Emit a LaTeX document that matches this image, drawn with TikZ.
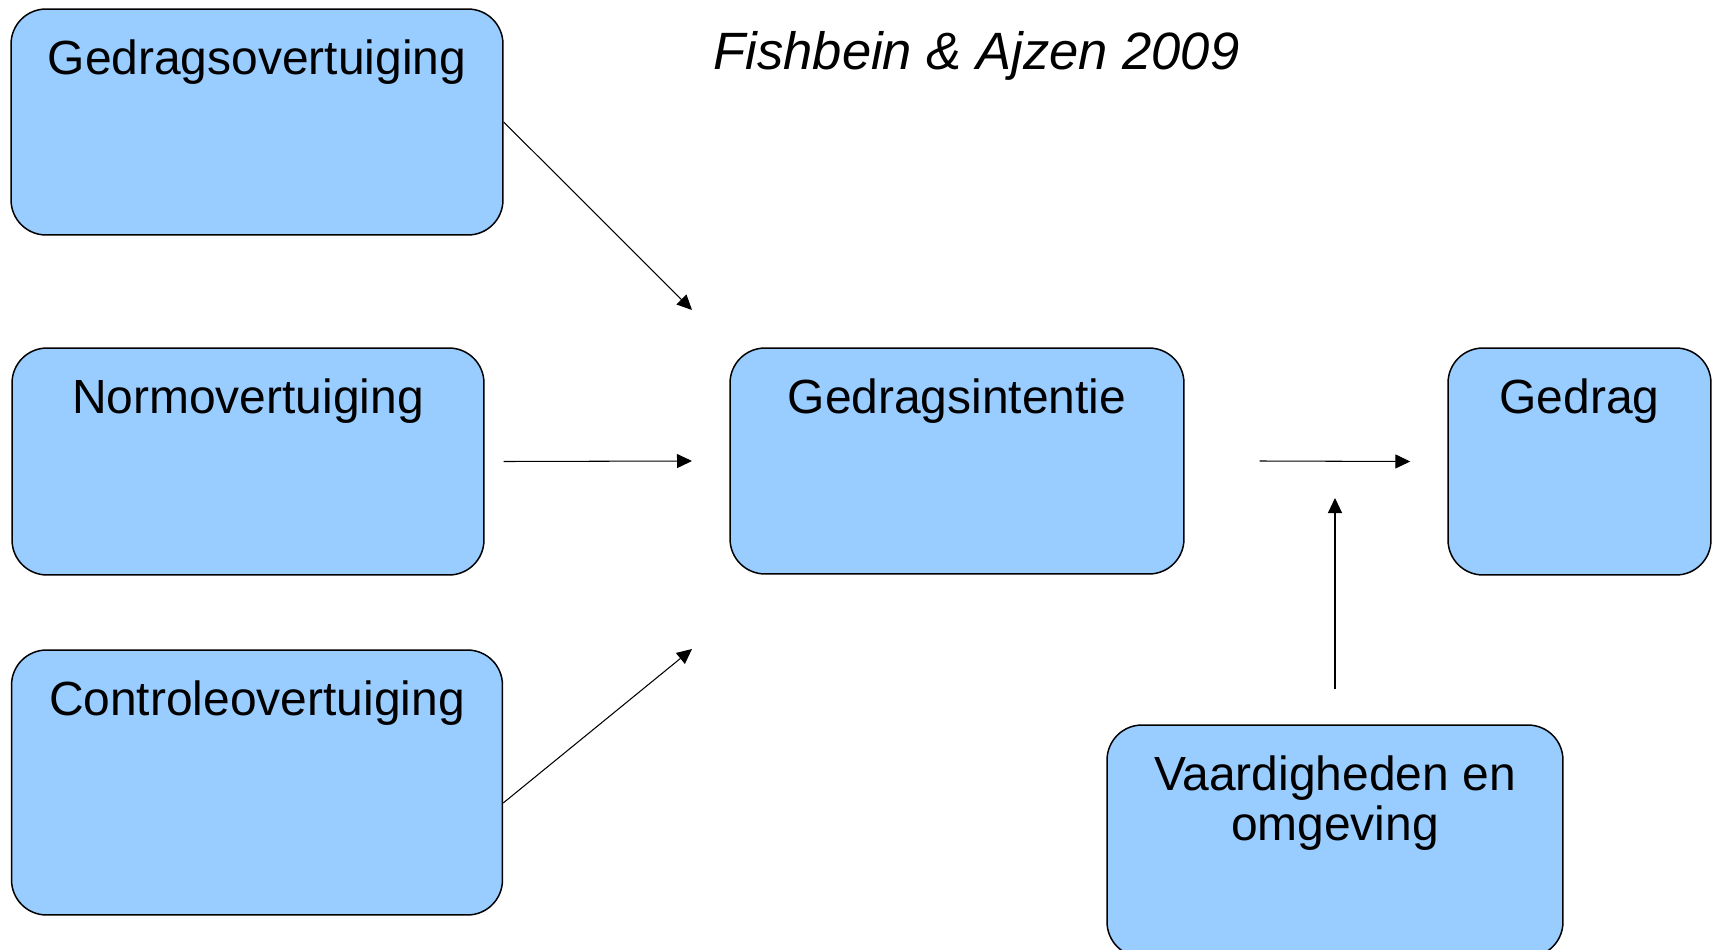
\documentclass[tikz,border=0pt]{standalone}
\usepackage{fontspec}
\setmainfont{Liberation Sans}
\usepackage{tikz}
\usetikzlibrary{calc,arrows.meta}
\definecolor{vakkleur}{HTML}{99CCFF}
\colorlet{randkleur}{black}
\tikzstyle{vak} = [
    draw=randkleur,
    fill=vakkleur,
    line width=0.85pt,
    rectangle,
    rounded corners=0.7cm,
    inner sep=0pt
    ]
\tikzstyle{vaktekst} = [
    anchor=base,
    yshift=-1.33cm,
    align=center,
    inner sep=0pt,
    font=\fontsize{27.3}{28.45}\selectfont
    ]
\tikzstyle{titel} = [
    anchor=base,
    inner sep=0pt,
    font=\fontsize{29.9}{34}\selectfont\itshape
    ]
\tikzstyle{pijl} = [
    -{Triangle[length=0.3cm,width=0.28cm]},
    line width=0.6pt
    ]

\begin{document}
\begin{tikzpicture}[x=0.02cm,y=-0.02cm]
\useasboundingbox (0,0) rectangle (1712,950);
% vakken
\node[vak, minimum width=9.84cm, minimum height=4.52cm] (gedragsov) at (257,122) {};
\node[vak, minimum width=9.44cm, minimum height=4.54cm] (normov) at (248,461.5) {};
\node[vak, minimum width=9.82cm, minimum height=5.3cm] (controleov) at (257,782.5) {};
\node[vak, minimum width=9.08cm, minimum height=4.52cm] (intentie) at (957,461) {};
\node[vak, minimum width=5.26cm, minimum height=4.54cm] (gedrag) at (1579.5,461.5) {};
\node[vak, minimum width=9.12cm, minimum height=4.64cm] (vaardig) at (1335,841) {};
% teksten
\node[vaktekst] (gedragsovtekst) at (gedragsov.north) {Gedragsovertuiging};
\node[vaktekst] (normovtekst) at (normov.north) {Normovertuiging};
\node[vaktekst] (controleovtekst) at (controleov.north) {Controleovertuiging};
\node[vaktekst] (intentietekst) at (intentie.north) {Gedragsintentie};
\node[vaktekst] (gedragtekst) at (gedrag.north) {Gedrag};
\node[vaktekst, yshift=-1cm] (vaardigtekst) at (vaardig.north) {Vaardigheden en\\omgeving};
\node[titel] (bron) at (976.5,70) {Fishbein \& Ajzen 2009};
% pijlen
\coordinate (naar1) at (692,310);
\coordinate (van2) at ($(normov.east)+(19,0)$);
\coordinate (naar2) at (692,461);
\coordinate (van3) at ($(controleov.east)+(0,20.5)$);
\coordinate (naar3) at (692,649);
\coordinate (van4) at ($(intentie.east)+(75,0)$);
\coordinate (naar4) at ($(gedrag.west)+(-37,0)$);
\coordinate (van5) at ($(vaardig.north)+(0,-35)$);
\coordinate (naar5) at (1335,498);
\draw[pijl] (gedragsov.east) -- (naar1);
\draw[pijl] (van2) -- (naar2);
\draw[pijl] (van3) -- (naar3);
\draw[pijl] (van4) -- (naar4);
\draw[pijl] (van5) -- (naar5);
\end{tikzpicture}
\end{document}
